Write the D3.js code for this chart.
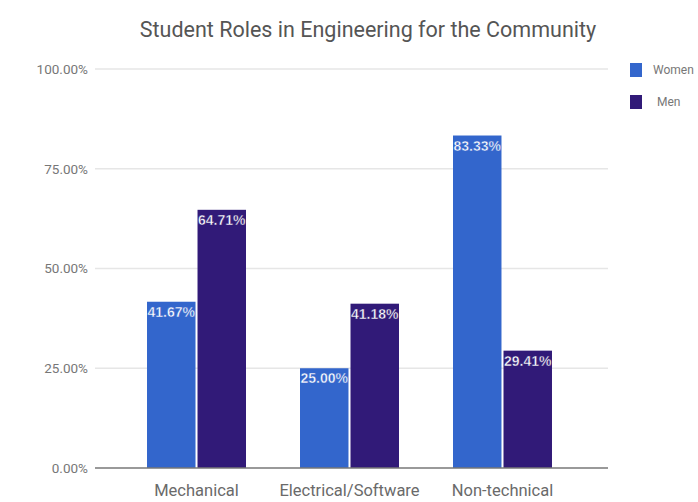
<!DOCTYPE html>
<html><head><meta charset="utf-8">
<script src="https://cdn.jsdelivr.net/npm/d3@7"></script>
<style>body{margin:0;background:#fff;} svg{display:block;}</style>
</head><body>
<script>
const categories = ["Mechanical", "Electrical/Software", "Non-technical"];
const seriesNames = ["Women", "Men"];
const women = [41.67, 25.00, 83.33];
const men = [64.71, 41.18, 29.41];
const yTicks = [0, 25, 50, 75, 100];
const colors = ["#3366cc", "#311a78"];
const title = "Student Roles in Engineering for the Community";

(function() {
const W = 698, H = 502;
const svg = d3.select("body").append("svg").attr("width", W).attr("height", H);
const mLeft = 95, mRight = 604, gridRight = 608, mTop = 69, mBottom = 468;

const y = d3.scaleLinear().domain([0, 100]).range([mBottom, mTop]);
const x0 = d3.scaleBand().domain(categories).range([mLeft, mRight]).paddingInner(0.353).paddingOuter(0.34);
const x1 = d3.scaleBand().domain(seriesNames).range([0, x0.bandwidth()]).paddingInner(0.04);
const seriesVals = [women, men];

// gridlines
svg.append("g").selectAll("line").data(yTicks.filter(t => t > 0)).join("line")
  .attr("x1", mLeft).attr("x2", gridRight)
  .attr("y1", d => y(d)).attr("y2", d => y(d))
  .attr("stroke", "#e6e6e6").attr("stroke-width", 1.5);

// y axis labels
const yAxis = d3.axisLeft(y).tickValues(yTicks).tickSize(0).tickPadding(7).tickFormat(d => d.toFixed(2) + "%");
const ga = svg.append("g").attr("transform", `translate(${mLeft},0)`).call(yAxis);
ga.select(".domain").remove();
ga.selectAll("text").attr("fill", "#777").attr("font-family", "Roboto, Arial, sans-serif").attr("font-size", 13.5);

// bars
const groups = svg.append("g").selectAll("g").data(categories).join("g")
  .attr("transform", d => `translate(${x0(d)},0)`);
groups.each(function(cat, ci) {
  const g = d3.select(this);
  seriesNames.forEach((s, si) => {
    const v = seriesVals[si][ci];
    g.append("rect").attr("x", x1(s)).attr("y", y(v)).attr("width", x1.bandwidth())
      .attr("height", y(0) - y(v)).attr("fill", colors[si]);
    g.append("text").attr("x", x1(s) + x1.bandwidth() / 2).attr("y", y(v) + 15)
      .attr("text-anchor", "middle").attr("font-family", "'Liberation Sans Narrow', Arial, sans-serif")
      .attr("font-weight", "bold").attr("font-size", 14)
      .attr("fill", "#fff").attr("stroke", colors[si]).attr("stroke-width", 0.4)
      .text(v.toFixed(2) + "%");
  });
});

// baseline
svg.append("line").attr("x1", mLeft).attr("x2", gridRight).attr("y1", mBottom).attr("y2", mBottom)
  .attr("stroke", "#777").attr("stroke-width", 1.5);

// x labels
const xAxis = d3.axisBottom(x0).tickSize(0).tickPadding(16);
const gx = svg.append("g").attr("transform", `translate(0,${mBottom})`).call(xAxis);
gx.select(".domain").remove();
gx.selectAll("text").attr("fill", "#6a6a6a").attr("font-family", "Roboto, Arial, sans-serif").attr("font-size", 16.5);

// title
svg.append("text").attr("x", 368).attr("y", 37).attr("text-anchor", "middle")
  .attr("font-family", "Roboto, Arial, sans-serif").attr("font-size", 21.5).attr("fill", "#555")
  .text(title);

// legend
const lg = svg.append("g").selectAll("g").data(seriesNames).join("g")
  .attr("transform", (d, i) => `translate(630,${63 + i * 32})`);
lg.append("rect").attr("width", 12).attr("height", 14).attr("fill", (d, i) => colors[i]);
lg.append("text").attr("x", (d, i) => i === 0 ? 23 : 27).attr("y", 11)
  .attr("font-family", "Roboto, Arial, sans-serif").attr("font-size", 12).attr("fill", "#777")
  .text(d => d);
})();
</script>
</body></html>
